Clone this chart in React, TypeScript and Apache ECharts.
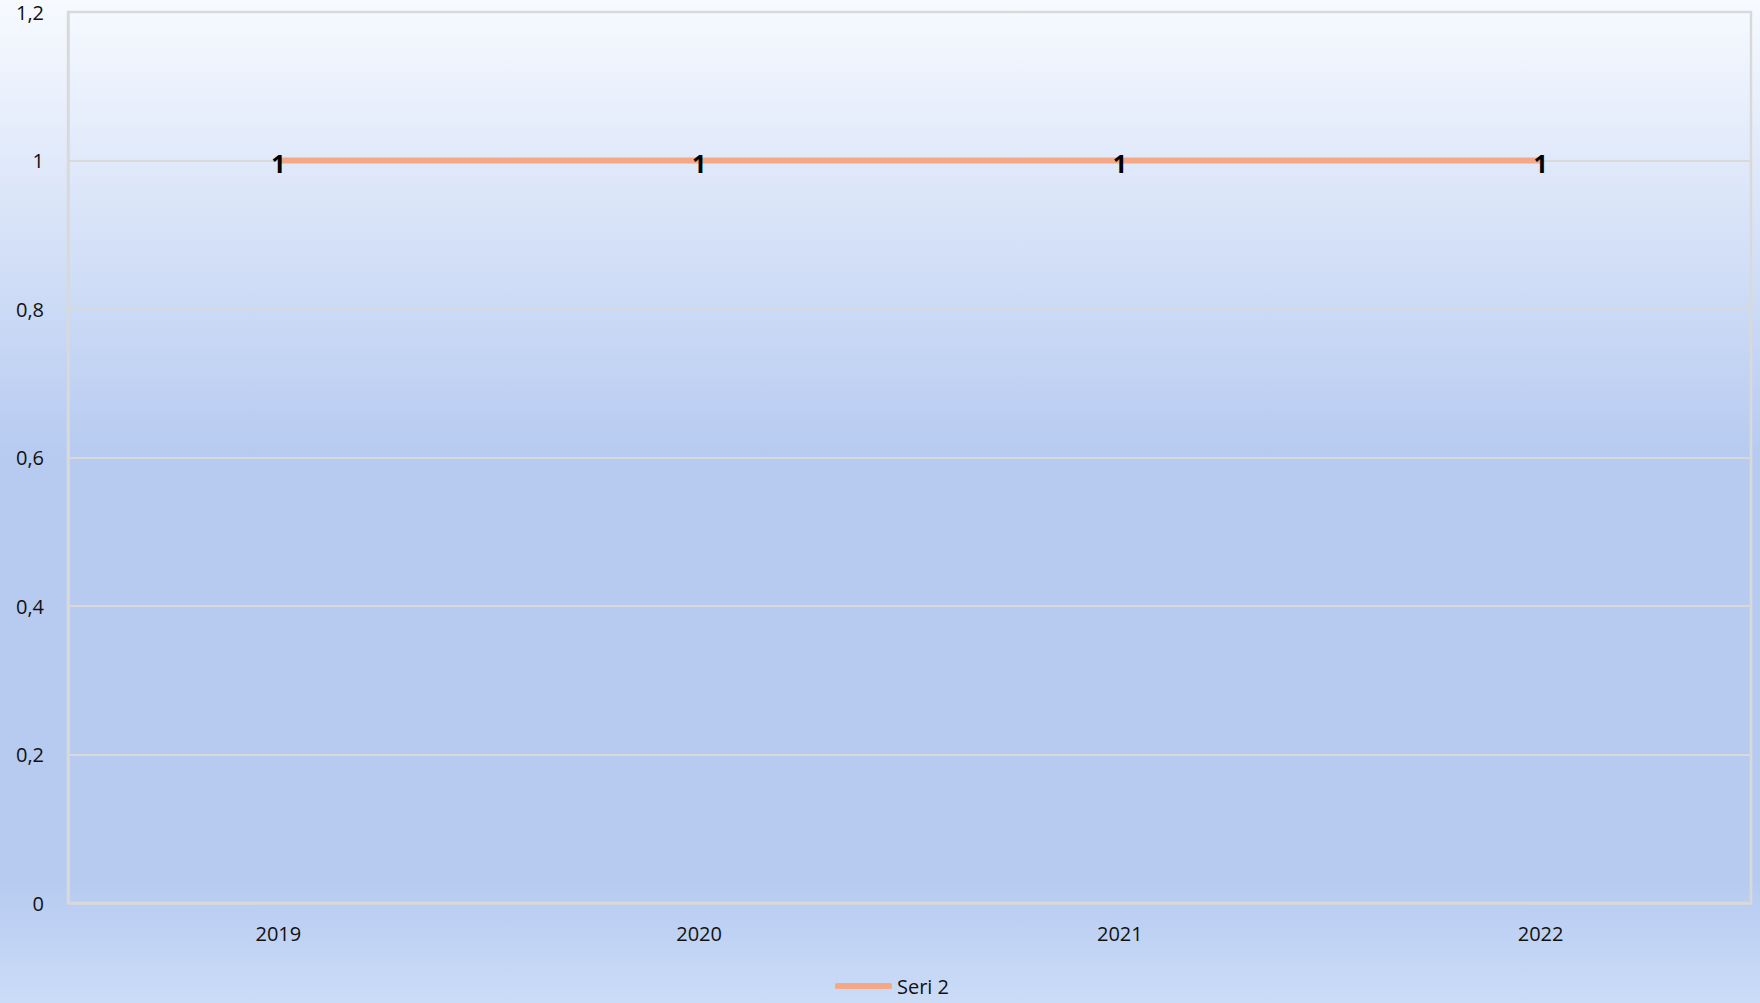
import React, { useEffect, useRef } from "react";
import * as echarts from "echarts";

const categories = ["2019", "2020", "2021", "2022"];
const seriesName = "Seri 2";
const seriesValues = [1, 1, 1, 1];
const yMin = 0;
const yMax = 1.2;
const yInterval = 0.2;

const FONT = "'Open Sans', sans-serif";
const LINE_COLOR = "#F4A886";
const GRID_COLOR = "#d9d9d9";

export default function App() {
  const ref = useRef<HTMLDivElement>(null);
  useEffect(() => {
    if (!ref.current) return;
    const chart = echarts.init(ref.current, null, { renderer: "svg" });
    chart.setOption({
      animation: false,
      backgroundColor: new echarts.graphic.LinearGradient(0, 0, 0, 1, [
        { offset: 0, color: "#f7faff" },
        { offset: 0.45, color: "#b7cbf1" },
        { offset: 0.88, color: "#b7cbf1" },
        { offset: 1, color: "#cbdcf7" },
      ]),
      textStyle: { fontFamily: FONT },
      grid: {
        left: 68,
        top: 12,
        right: 9,
        bottom: 100,
        show: true,
        borderColor: GRID_COLOR,
        borderWidth: 2.5,
        backgroundColor: "transparent",
      },
      legend: {
        left: 830,
        top: 971,
        icon: "roundRect",
        itemWidth: 57,
        itemHeight: 6,
        textStyle: { fontFamily: FONT, fontSize: 20, color: "#111" },
        data: [{ name: seriesName, itemStyle: { color: LINE_COLOR } }],
      },
      xAxis: {
        type: "category",
        data: categories,
        boundaryGap: true,
        axisLine: { show: true, lineStyle: { color: GRID_COLOR, width: 2.5 } },
        axisTick: { show: false },
        axisLabel: { fontFamily: FONT, fontSize: 20, color: "#111", margin: 20 },
        splitLine: { show: false },
      },
      yAxis: {
        type: "value",
        min: yMin,
        max: yMax,
        interval: yInterval,
        axisLine: { show: true, lineStyle: { color: GRID_COLOR, width: 2.5 } },
        axisTick: { show: false },
        axisLabel: {
          fontFamily: FONT,
          fontSize: 20,
          lineHeight: 20,
          color: "#111",
          margin: 24,
          formatter: (v: number) => String(+v.toFixed(1)).replace(".", ","),
        },
        splitLine: { show: true, lineStyle: { color: GRID_COLOR, width: 2 } },
      },
      series: [
        {
          name: seriesName,
          type: "line",
          data: seriesValues,
          symbol: "circle",
          symbolSize: 1,
          itemStyle: { color: LINE_COLOR },
          lineStyle: { color: LINE_COLOR, width: 6 },
          label: {
            show: true,
            position: "inside",
            offset: [0, 2],
            fontFamily: FONT,
            fontSize: 25,
            fontWeight: "bold",
            color: "#000",
          },
        },
      ],
    });
    return () => chart.dispose();
  }, []);
  return (
    <div
      ref={ref}
      style={{ position: "fixed", left: 0, top: 0, width: 1760, height: 1003 }}
    />
  );
}
